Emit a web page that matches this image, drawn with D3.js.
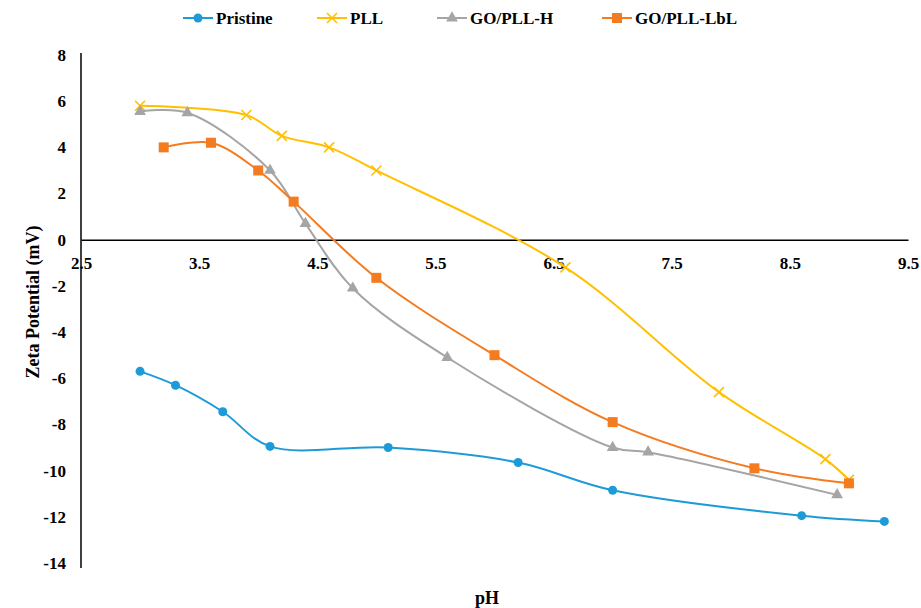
<!DOCTYPE html>
<html><head><meta charset="utf-8">
<script src="https://cdn.jsdelivr.net/npm/d3@7"></script>
<style>body{margin:0;background:#fff}svg{display:block}</style>
</head><body>
<svg id="c" width="921" height="608"></svg>
<script>
const seriesNames = ["Pristine", "PLL", "GO/PLL-H", "GO/PLL-LbL"];
const seriesColors = ["#1E9BD7", "#FFC000", "#A5A5A5", "#F47B20"];
const pristineX = [3.0, 3.3, 3.7, 4.1, 5.1, 6.2, 7.0, 8.6, 9.3];
const pristineY = [-5.7, -6.3, -7.45, -8.95, -9.0, -9.65, -10.85, -11.95, -12.2];
const pllX = [3.0, 3.9, 4.2, 4.6, 5.0, 6.6, 7.9, 8.8, 9.0];
const pllY = [5.8, 5.4, 4.5, 4.0, 3.0, -1.2, -6.6, -9.5, -10.4];
const gohX = [3.0, 3.4, 4.1, 4.4, 4.8, 5.6, 7.0, 7.3, 8.9];
const gohY = [5.55, 5.5, 3.0, 0.7, -2.1, -5.1, -9.0, -9.2, -11.05];
const lblX = [3.2, 3.6, 4.0, 4.3, 5.0, 6.0, 7.0, 8.2, 9.0];
const lblY = [4.0, 4.2, 3.0, 1.65, -1.65, -5.0, -7.9, -9.9, -10.55];
const xTicks = [2.5, 3.5, 4.5, 5.5, 6.5, 7.5, 8.5, 9.5];
const yTicks = [8, 6, 4, 2, 0, -2, -4, -6, -8, -10, -12, -14];
const xTitle = "pH";
const yTitle = "Zeta Potential (mV)";

const svg = d3.select("#c");
const x = d3.scaleLinear().domain([2.5, 9.5]).range([81, 908]);
const y = d3.scaleLinear().domain([-14, 8]).range([563, 55]);

const FF = '"Liberation Serif", "Times New Roman", Times, serif';
function styleText(sel, size) {
  sel.style("font-family", FF).style("font-weight", "bold").style("font-size", size + "px").attr("fill", "#000");
}

const xAxis = d3.axisBottom(x).tickValues(xTicks).tickSize(0).tickPadding(17).tickFormat(d => d.toFixed(1));
const gx = svg.append("g").attr("transform", `translate(0,${y(0)})`).call(xAxis);
gx.select(".domain").attr("stroke", "#000").attr("stroke-width", 1.5);
styleText(gx.selectAll("text"), 17);

const yAxis = d3.axisLeft(y).tickValues(yTicks).tickSize(0).tickPadding(15).tickFormat(d => String(d));
const gy = svg.append("g").attr("transform", `translate(${x(2.5)},0)`).call(yAxis);
gy.select(".domain").attr("stroke", "#000").attr("stroke-width", 1.5).attr("d", `M0,${y(8)-2}V${y(-14)+5}`);
styleText(gy.selectAll("text"), 17);

styleText(svg.append("text").attr("transform", `translate(39,302) rotate(-90)`).attr("text-anchor", "middle").text(yTitle), 18);
styleText(svg.append("text").attr("x", 487).attr("y", 604).attr("text-anchor", "middle").text(xTitle), 18);

const data = [
  pristineX.map((d, i) => [d, pristineY[i]]),
  pllX.map((d, i) => [d, pllY[i]]),
  gohX.map((d, i) => [d, gohY[i]]),
  lblX.map((d, i) => [d, lblY[i]])
];
const line = d3.line().x(d => x(d[0])).y(d => y(d[1])).curve(d3.curveCatmullRom.alpha(0.5));

function marker(g, k, cx, cy, c) {
  if (k === 0) g.append("circle").attr("cx", cx).attr("cy", cy).attr("r", 4.5).attr("fill", c);
  else if (k === 1) g.append("path").attr("d", `M${cx-5},${cy-5}L${cx+5},${cy+5}M${cx-5},${cy+5}L${cx+5},${cy-5}`).attr("stroke", c).attr("stroke-width", 1.6);
  else if (k === 2) g.append("path").attr("d", d3.symbol(d3.symbolTriangle, 60)()).attr("transform", `translate(${cx},${cy})`).attr("fill", c);
  else g.append("rect").attr("x", cx - 5).attr("y", cy - 5).attr("width", 10).attr("height", 10).attr("fill", c);
}

data.forEach((s, k) => {
  const g = svg.append("g");
  g.append("path").attr("d", line(s)).attr("fill", "none").attr("stroke", seriesColors[k]).attr("stroke-width", 2);
  s.forEach(d => marker(g, k, x(d[0]), y(d[1]), seriesColors[k]));
});

const legX = [183, 317, 437, 602];
const leg = svg.append("g");
seriesNames.forEach((n, k) => {
  const lx = legX[k], ly = 18;
  leg.append("line").attr("x1", lx).attr("x2", lx + 30).attr("y1", ly).attr("y2", ly).attr("stroke", seriesColors[k]).attr("stroke-width", 2);
  marker(leg, k, lx + 15, ly, seriesColors[k]);
  styleText(leg.append("text").attr("x", lx + 33).attr("y", ly + 6).text(n), 17);
});
</script>
</body></html>
